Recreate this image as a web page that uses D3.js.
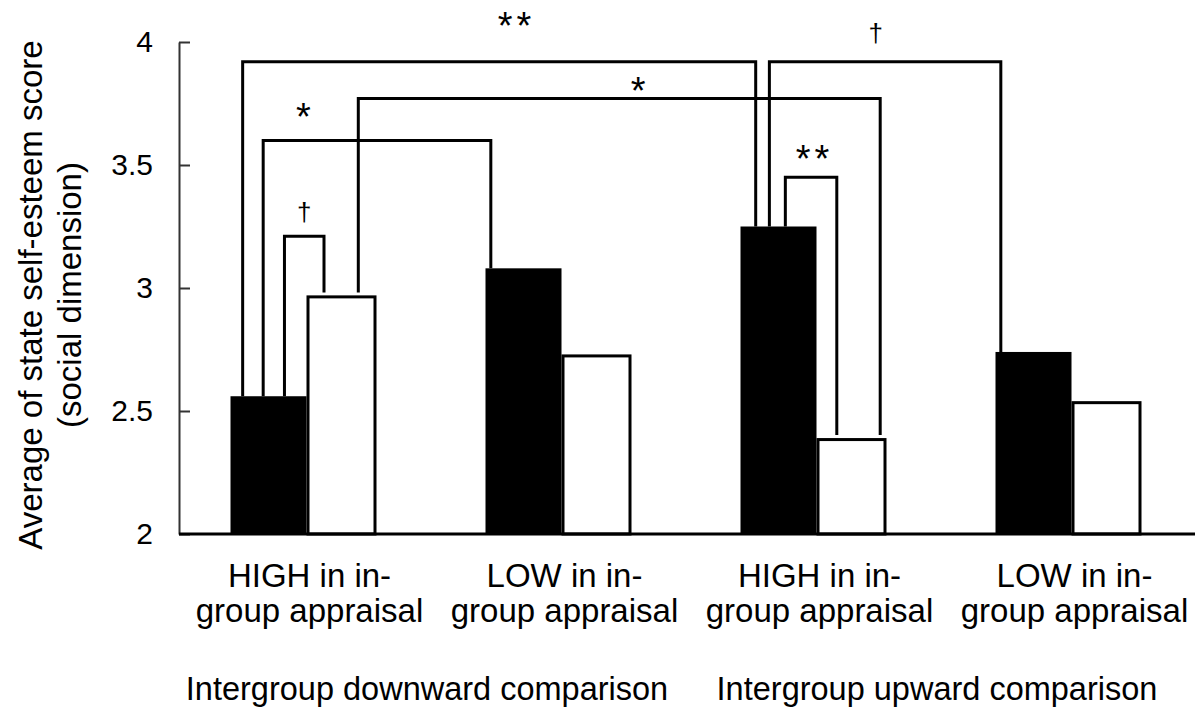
<!DOCTYPE html>
<html>
<head>
<meta charset="utf-8">
<script src="https://d3js.org/d3.v7.min.js"></script>
<style>
body { margin: 0; background: #ffffff; }
text { font-family: "Liberation Sans", Arial, sans-serif; fill: #000; }
.axis path, .axis line { stroke: #333; stroke-width: 2px; }
.axis text { font-size: 30px; font-family: "Liberation Sans", Arial, sans-serif; }
</style>
</head>
<body>
<script>
// data
var categories = [
  ["HIGH in in-", "group appraisal"],
  ["LOW in in-", "group appraisal"],
  ["HIGH in in-", "group appraisal"],
  ["LOW in in-", "group appraisal"]
];
var comparisons = ["Intergroup downward comparison", "Intergroup upward comparison"];
var series = ["filled", "open"];
var filledValues = [2.56, 3.08, 3.25, 2.74];
var openValues = [2.97, 2.73, 2.39, 2.54];
var yTicks = [2, 2.5, 3, 3.5, 4];

// significance brackets: [category, series] -> [category, series], level, mark
var brackets = [
  { a: [0, "filled"], b: [2, "filled"], level: 3.92, mark: "**" },
  { a: [0, "open"],   b: [2, "open"],   level: 3.77, mark: "*" },
  { a: [0, "filled"], b: [1, "filled"], level: 3.60, mark: "*" },
  { a: [0, "filled"], b: [0, "open"],   level: 3.21, mark: "\u2020" },
  { a: [2, "filled"], b: [3, "filled"], level: 3.92, mark: "\u2020" },
  { a: [2, "filled"], b: [2, "open"],   level: 3.45, mark: "**" }
];
// where each bracket leg sits inside its bar (fraction of bar width) and where the mark goes
var bracketLayout = [
  { fa: 0.16, fb: 0.20, at: 0.53, lift: 42 },
  { fa: 0.74, fb: 0.91, at: 0.54, lift: 14 },
  { fa: 0.43, fb: 0.07, at: 0.185, lift: 30 },
  { fa: 0.71, fb: 0.25, at: 0.5, lift: 24 },
  { fa: 0.38, fb: 0.07, at: 0.46, lift: 29 },
  { fa: 0.59, fb: 0.29, at: 0.53, lift: 25 }
];

var width = 1200, height = 713;
var margin = { left: 179, right: 1, top: 42, bottom: 179 };

var svg = d3.select("body").append("svg")
    .attr("width", width)
    .attr("height", height);

var x = d3.scaleBand().domain(d3.range(categories.length))
    .range([margin.left, width - margin.right]);
var y = d3.scaleLinear().domain([2, 4]).range([height - margin.bottom, margin.top]);

var barW = { filled: 76, open: 70 };
function barX(i, s) {
  var c = x(i) + x.bandwidth() / 2;
  return s == "filled" ? c - barW.filled : c;
}
function value(i, s) { return s == "filled" ? filledValues[i] : openValues[i]; }

// y axis, ticks pointing into the plot
svg.append("g")
    .attr("class", "axis")
    .attr("transform", "translate(" + margin.left + ",0)")
    .call(d3.axisLeft(y).tickValues(yTicks).tickSize(-11).tickSizeOuter(0).tickPadding(26)
      .tickFormat(d3.format("")));

// brackets
brackets.forEach(function(b, k) {
  var L = bracketLayout[k];
  var xa = barX(b.a[0], b.a[1]) + L.fa * barW[b.a[1]];
  var xb = barX(b.b[0], b.b[1]) + L.fb * barW[b.b[1]];
  var ya = y(value(b.a[0], b.a[1])) - (b.a[1] == "open" ? 3 : 0);
  var yb = y(value(b.b[0], b.b[1])) - (b.b[1] == "open" ? 3 : 0);
  var yt = y(b.level);
  var dagger = b.mark == "\u2020";
  svg.append("path")
      .attr("d", "M" + xa + "," + ya + "V" + yt + "H" + xb + "V" + yb)
      .attr("fill", "none")
      .attr("stroke", "#000")
      .attr("stroke-width", 3);
  svg.append("text")
      .attr("x", xa + L.at * (xb - xa) + (dagger ? 0 : (b.mark.length - 1) * 2))
      .attr("y", yt - L.lift)
      .attr("dy", dagger ? "0.35em" : "0.52em")
      .attr("text-anchor", "middle")
      .style("font-size", dagger ? "26px" : "38px")
      .style("letter-spacing", dagger ? null : "4px")
      .text(b.mark);
});

// bars
var rows = [];
categories.forEach(function(c, i) {
  series.forEach(function(s) { rows.push({ i: i, s: s, v: value(i, s) }); });
});
svg.selectAll(".bar")
    .data(rows)
    .enter().append("rect")
    .attr("class", "bar")
    .attr("x", function(d) { return barX(d.i, d.s) + (d.s == "open" ? 1.5 : 0); })
    .attr("y", function(d) { return y(d.v) + (d.s == "open" ? 1.5 : 0); })
    .attr("width", function(d) { return barW[d.s] - (d.s == "open" ? 3 : 0); })
    .attr("height", function(d) { return y(2) - y(d.v) - (d.s == "open" ? 1.5 : 0); })
    .attr("fill", function(d) { return d.s == "filled" ? "#000" : "#fff"; })
    .attr("stroke", "#000")
    .attr("stroke-width", function(d) { return d.s == "open" ? 3 : 0; });

// baseline
svg.append("line")
    .attr("x1", margin.left).attr("x2", x.range()[1] - 4)
    .attr("y1", y(2)).attr("y2", y(2))
    .attr("stroke", "#000")
    .attr("stroke-width", 3);

// category labels
var cat = svg.selectAll(".cat")
    .data(categories)
    .enter().append("text")
    .attr("class", "cat")
    .attr("text-anchor", "middle")
    .style("font-size", "33px");
cat.selectAll("tspan")
    .data(function(d, i) { return d.map(function(t) { return { t: t, i: i }; }); })
    .enter().append("tspan")
    .attr("x", function(d) { return x(d.i) + x.bandwidth() / 2 + 3; })
    .attr("y", function(d, j) { return 587 + j * 35; })
    .text(function(d) { return d.t; });

// comparison labels
svg.selectAll(".cmp")
    .data(comparisons)
    .enter().append("text")
    .attr("class", "cmp")
    .attr("text-anchor", "middle")
    .attr("x", function(d, k) { return (x(2 * k) + x(2 * k + 1) + x.bandwidth()) / 2 - 7; })
    .attr("y", 700)
    .style("font-size", "32.5px")
    .text(function(d) { return d; });

// y title
var title = svg.append("text")
    .attr("transform", "translate(0," + (y(3) + 7) + ") rotate(-90)")
    .attr("text-anchor", "middle")
    .style("font-size", "33px");
title.append("tspan").attr("x", 0).attr("y", 42).text("Average of state self-esteem score");
title.append("tspan").attr("x", 0).attr("y", 81).text("(social dimension)");
</script>
</body>
</html>
